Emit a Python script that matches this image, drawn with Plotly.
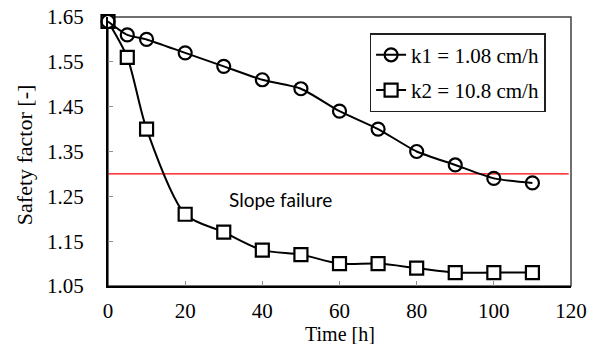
import plotly.graph_objects as go

# Time (h) and safety factor for the two permeability cases
time_h = [0, 5, 10, 20, 30, 40, 50, 60, 70, 80, 90, 100, 110]
fs_k1 = [1.64, 1.61, 1.60, 1.57, 1.54, 1.51, 1.49, 1.44, 1.40, 1.35, 1.32, 1.29, 1.28]
fs_k2 = [1.64, 1.56, 1.40, 1.21, 1.17, 1.13, 1.12, 1.10, 1.10, 1.09, 1.08, 1.08, 1.08]
failure_fs = 1.30

x_ticks = [0, 20, 40, 60, 80, 100, 120]
y_ticks = [1.05, 1.15, 1.25, 1.35, 1.45, 1.55, 1.65]

SERIF = "Liberation Serif, Times New Roman, serif"

fig = go.Figure()

fig.add_trace(go.Scatter(
    x=time_h, y=fs_k2, name="k2 = 10.8 cm/h", legendgroup="b", legendrank=2,
    mode="lines+markers", cliponaxis=False,
    line=dict(color="black", width=2, shape="spline", smoothing=0.8),
    marker=dict(symbol="square", size=13, color="white",
                line=dict(color="black", width=2.2)),
))
fig.add_trace(go.Scatter(
    x=time_h, y=fs_k1, name="k1 = 1.08 cm/h", legendgroup="a", legendrank=1,
    mode="lines+markers", cliponaxis=False,
    line=dict(color="black", width=2, shape="spline", smoothing=0.6),
    marker=dict(symbol="circle", size=13, color="rgba(255,255,255,0)",
                line=dict(color="black", width=2.2)),
))

# failure threshold
fig.add_shape(type="line", xref="paper", yref="y", x0=0, x1=0.995,
              y0=failure_fs, y1=failure_fs,
              line=dict(color="#ff0000", width=1.3), layer="below")

# plot frame
fig.add_shape(type="rect", xref="paper", yref="paper", x0=0, x1=1, y0=0, y1=1,
              line=dict(color="#404040", width=1.5), layer="below")

fig.add_annotation(x=44.6, y=1.242, text="Slope failure", showarrow=False,
                   font=dict(family="Lato, Open Sans, sans-serif", size=19,
                             color="black"))

# axis titles
fig.add_annotation(xref="paper", yref="paper", x=0.5, y=-0.179,
                   xanchor="center", yanchor="middle", showarrow=False,
                   text="Time [h]", font=dict(family=SERIF, size=20))
fig.add_annotation(xref="paper", yref="paper", x=-0.18, y=0.485,
                   xanchor="center", yanchor="middle", showarrow=False,
                   textangle=-90,
                   text="Safety factor [-]", font=dict(family=SERIF, size=22))

fig.update_layout(
    width=599, height=344,
    margin=dict(l=108, r=28, t=17, b=58),
    paper_bgcolor="white", plot_bgcolor="white",
    font=dict(family=SERIF, size=21, color="black"),
    showlegend=True,
    legend=dict(x=0.565, y=0.94, xanchor="left", yanchor="top",
                bordercolor="#202020", borderwidth=1.5, bgcolor="white",
                traceorder="grouped", tracegroupgap=5,
                font=dict(family=SERIF, size=21, color="black")),
    xaxis=dict(range=[0, 120], tickvals=x_ticks, automargin=False,
               ticks="inside", ticklen=5, tickcolor="#909090", tickwidth=1,
               showgrid=False, zeroline=False,
               showline=True, linecolor="black", linewidth=2,
               ticklabelstandoff=5),
    yaxis=dict(range=[1.05, 1.65], tickvals=y_ticks, tickformat=".2f",
               automargin=False,
               ticks="inside", ticklen=5, tickcolor="#909090", tickwidth=1,
               showgrid=False, zeroline=False,
               showline=True, linecolor="black", linewidth=2,
               ticklabelstandoff=18),
)

fig.write_html("out.html")
